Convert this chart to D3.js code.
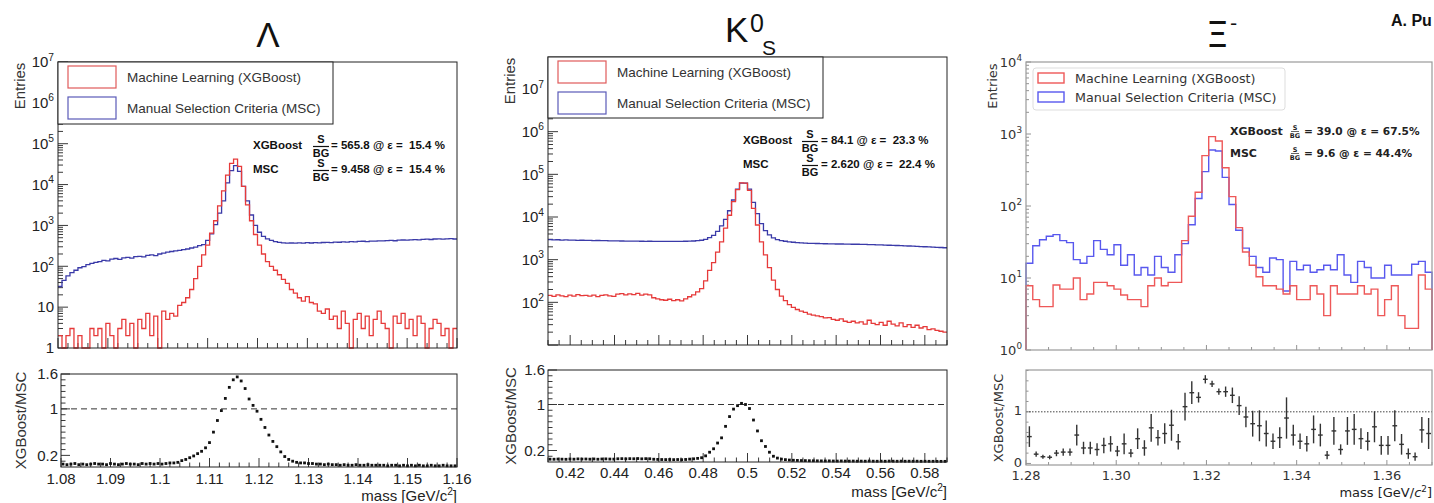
<!DOCTYPE html>
<html><head><meta charset="utf-8">
<script src="https://cdn.jsdelivr.net/npm/d3@7"></script>
<style>body{margin:0;background:#fff}svg{display:block}</style>
</head><body><script>
// ================= DATA =================
const legendLabels = ["Machine Learning (XGBoost)", "Manual Selection Criteria (MSC)"];

// Lambda
const lambdaRange = [1.08, 1.16];
const lambdaXGB = [2,0,2,3,1,2,0,1,3,2, 3,1,4,2,0,3,5,2,4,1, 5,3,7,2,6,0,8,5,7,6,
  11,13,17,27,50,100,190,330,650,1300, 3000,7000,17000,33000,42000,28000,9000,3200,1300,600,
  330,200,130,100,80,62,48,38,27,22, 17,14,18,13,12,8,7,9,5,6,
  3,8,4,0,5,7,3,6,2,5, 8,4,3,0,6,4,7,3,5,2, 6,4,0,3,5,4,2,3,1,3];
const lambdaMSC = [32,45,58,70,80,92,98,110,118,125, 130,140,135,150,155,148,160,165,158,172,
  175,170,185,190,182,200,210,222,230,238, 245,255,265,280,295,320,340,430,620,1050,
  2000,4000,11000,22000,29000,21000,9000,4000,1800,1000, 680,540,470,430,400,385,375,370,372,368,
  375,370,378,372,380,376,382,385,380,390, 388,395,392,400,398,405,410,402,415,412,
  420,418,425,430,422,435,440,438,445,450, 442,455,460,452,465,470,460,468,475,465];
const lambdaRatio = [0.05,0.04,0.05,0.06,0.04,0.05,0.04,0.05,0.06,0.05, 0.05,0.04,0.06,0.05,0.04,0.05,0.06,0.05,0.05,0.04,
  0.06,0.05,0.06,0.05,0.06,0.05,0.06,0.07,0.07,0.08, 0.11,0.13,0.16,0.19,0.23,0.27,0.33,0.42,0.6,0.8,
  0.97,1.18,1.37,1.5,1.55,1.48,1.35,1.17,1.06,0.96, 0.82,0.68,0.55,0.44,0.35,0.26,0.18,0.13,0.1,0.08,
  0.07,0.07,0.06,0.06,0.05,0.05,0.04,0.05,0.04,0.04, 0.03,0.04,0.03,0.03,0.04,0.03,0.03,0.04,0.03,0.03,
  0.03,0.03,0.02,0.03,0.03,0.02,0.03,0.02,0.03,0.02, 0.03,0.02,0.02,0.03,0.02,0.02,0.03,0.02,0.02,0.02];
const lambdaStats = [["XGBoost", "= 565.8 @ \u03b5 =  15.4 %"], ["MSC", "= 9.458 @ \u03b5 =  15.4 %"]];
const lambdaXTicks = ["1.08","1.09","1.1","1.11","1.12","1.13","1.14","1.15","1.16"];

// K0S
const k0Range = [0.41, 0.59];
const k0XGB = [145,138,150,142,136,148,140,152,144,146, 140,148,136,145,150,142,138,155,160,150,
  158,152,162,148,155,150,128,120,115,112, 118,110,115,108,120,135,150,175,210,320,
  560,850,1500,2600,5500,11000,23000,44000,63000,62000, 42000,16000,6500,2600,1300,650,330,200,140,110,
  88,76,68,62,58,53,50,48,46,43, 44,40,38,41,36,34,36,33,35,31,
  38,32,30,34,29,36,31,28,33,27, 30,26,29,25,27,23,24,22,21,20];
const k0MSC = [2950,2900,2930,2880,2900,2860,2870,2840,2850,2820, 2830,2800,2810,2780,2790,2760,2770,2750,2740,2730,
  2720,2710,2720,2700,2690,2700,2680,2690,2670,2680, 2680,2690,2670,2690,2700,2720,2740,2780,2850,2980,
  3300,3700,4600,6200,8800,14000,25000,45000,62000,62000, 45000,22000,12000,7000,4800,3800,3250,2950,2800,2700,
  2620,2560,2520,2480,2450,2420,2400,2390,2380,2360, 2350,2340,2330,2330,2320,2310,2300,2300,2290,2280,
  2260,2250,2230,2220,2200,2180,2160,2150,2130,2110, 2090,2070,2050,2030,2010,1990,1970,1950,1930,1900];
const k0Ratio = [0.049,0.048,0.051,0.049,0.047,0.052,0.049,0.054,0.051,0.052, 0.049,0.053,0.048,0.052,0.054,0.051,0.05,0.056,0.058,0.055,
  0.058,0.056,0.06,0.055,0.058,0.056,0.048,0.045,0.043,0.042, 0.044,0.041,0.043,0.04,0.044,0.05,0.055,0.063,0.074,0.107,
  0.17,0.23,0.33,0.42,0.62,0.79,0.92,0.98,1.02,1.0, 0.93,0.73,0.54,0.37,0.27,0.17,0.1,0.068,0.05,0.041,
  0.034,0.03,0.027,0.025,0.024,0.022,0.021,0.02,0.019,0.018, 0.019,0.017,0.016,0.018,0.016,0.015,0.016,0.014,0.015,0.014,
  0.017,0.014,0.013,0.015,0.013,0.016,0.014,0.013,0.015,0.013, 0.014,0.013,0.014,0.012,0.013,0.012,0.012,0.011,0.011,0.011];
const k0Stats = [["XGBoost", "= 84.1 @ \u03b5 =  23.3 %"], ["MSC", "= 2.620 @ \u03b5 =  22.4 %"]];
const k0XTicks = ["0.42","0.44","0.46","0.48","0.5","0.52","0.54","0.56","0.58"];

// Xi-
const xiRange = [1.28, 1.37];
const xiXGB = [7.8,5,4,4,8,7,7,10,5,6, 8.7,8.7,7.8,7,5.8,5,5,4,7.8,10, 7.8,8.7,8.7,33,72,155,500,920,800,340,
  135,50,23,15,10.4,7.8,7.8,7,6,7.8, 5,5,7.8,6,3,7.8,6,6,6,7.8, 6,7,3,5,7.8,3,2,2,11,7];
const xiMSC = [16,28,34,38,40,33,31,18,16,20, 33,25,21,29,15,21,11,14,11,20, 14,12,21,30,55,127,300,600,580,250,
  105,46,26,20,14,12,19,18,6.6,17, 13,15,12,13,15,13,21,11,8.7,17, 14,10,10,15,11,11,11,15.5,17,12];
const xiRatio = [0.52,0.18,0.13,0.12,0.2,0.22,0.22,0.55,0.3,0.3, 0.27,0.35,0.38,0.24,0.38,0.2,0.48,0.3,0.69,0.5,
  0.58,0.74,0.42,1.1,1.37,1.28,1.63,1.54,1.39,1.39, 1.32,1.12,0.9,0.77,0.73,0.58,0.43,0.5,0.88,0.55,
  0.43,0.38,0.66,0.55,0.16,0.63,0.27,0.63,0.66,0.48, 0.43,0.71,0.35,0.35,0.73,0.37,0.19,0.13,0.65,0.58];
const xiRatioErr = [0.2,0.05,0.04,0.04,0.06,0.07,0.07,0.2,0.12,0.12, 0.12,0.15,0.15,0.1,0.2,0.08,0.2,0.15,0.27,0.15,
  0.2,0.3,0.15,0.27,0.22,0.1,0.08,0.06,0.06,0.1, 0.15,0.18,0.2,0.25,0.3,0.25,0.15,0.2,0.4,0.2,
  0.15,0.15,0.27,0.22,0.08,0.27,0.1,0.27,0.3,0.2, 0.18,0.3,0.18,0.18,0.3,0.2,0.1,0.08,0.25,0.3];
const xiStats = [["XGBoost", "= 39.0 @ \u03b5 = 67.5%"], ["MSC", "= 9.6 @ \u03b5 = 44.4%"]];
const xiXTicks = ["1.28","1.30","1.32","1.34","1.36"];

// ================= DRAWING =================
const F_ROOT = "'Liberation Sans', Arial, Helvetica, sans-serif";
const F_MPL = "'DejaVu Sans', sans-serif";
const svg = d3.select("body").append("svg").attr("width", 1434).attr("height", 503);

function edgesOf(range, n) { return d3.range(n + 1).map(i => range[0] + i * (range[1] - range[0]) / n); }
function histPath(values, range, x, y, minV, closed) {
  const n = values.length, e = edgesOf(range, n);
  const pts = values.map((v, i) => [x(e[i]), y(Math.max(v, minV))]);
  pts.push([x(e[n]), y(Math.max(values[n - 1], minV))]);
  if (closed) { pts.unshift([x(e[0]), y(minV)]); pts.push([x(e[n]), y(minV)]); }
  return d3.line().curve(d3.curveStepAfter)(pts);
}
function centersOf(range, n) { const e = edgesOf(range, n); return d3.range(n).map(i => (e[i] + e[i + 1]) / 2); }
function stepValues(lo, hi, step) { const out = []; const k0 = Math.ceil(lo / step - 1e-6), k1 = Math.floor(hi / step + 1e-6); for (let k = k0; k <= k1; k++) out.push(+(k * step).toFixed(6)); return out; }
function isMult(v, step) { return Math.abs(v / step - Math.round(v / step)) < 1e-5; }

function powLabel(g, xr, yc, e, fs, font, fill, alwaysPow) {
  const t = g.append("text").attr("x", xr).attr("y", yc + fs * 0.35).attr("text-anchor", "end")
    .attr("font-family", font).attr("font-size", fs).attr("fill", fill);
  if (!alwaysPow && e === 0) { t.text("1"); return; }
  if (!alwaysPow && e === 1) { t.text("10"); return; }
  t.append("tspan").text("10");
  t.append("tspan").attr("dy", -fs * 0.45).attr("font-size", fs * 0.68).text(e);
}

function rotLabel(g, cx, cy, txt, fs, font, fill) {
  g.append("text").attr("transform", `translate(${cx},${cy}) rotate(-90)`).attr("text-anchor", "middle")
    .attr("dominant-baseline", "central").attr("font-family", font).attr("font-size", fs).attr("fill", fill).text(txt);
}

function massTitle(g, xr, yb, fs, font, italicC) {
  const t = g.append("text").attr("x", xr).attr("y", yb).attr("text-anchor", "end")
    .attr("font-family", font).attr("font-size", fs).attr("fill", "#222");
  t.append("tspan").text("mass [GeV/");
  t.append("tspan").attr("font-style", italicC ? "italic" : null).text("c");
  t.append("tspan").attr("dy", -fs * 0.42).attr("font-size", fs * 0.68).text("2");
  t.append("tspan").attr("dy", fs * 0.42).text("]");
}

function rootPanel(c) {
  const g = svg.append("g");
  const U = c.upper, L = c.lower;
  const x = d3.scaleLinear().domain(c.range).range([U.x0, U.x1]);
  const y = d3.scaleLog().domain(c.yDomain).range([U.y1, U.y0]);
  const ink = "#222";
  const elo = Math.log10(c.yDomain[0]), ehi = Math.log10(c.yDomain[1]);
  for (let e = Math.floor(elo); e <= Math.ceil(ehi); e++) for (let m = 1; m < 10; m++) {
    const v = m * Math.pow(10, e);
    if (v < c.yDomain[0] * 0.999 || v > c.yDomain[1] * 1.001) continue;
    g.append("line").attr("x1", U.x0).attr("x2", U.x0 + (m === 1 ? 10 : 5)).attr("y1", y(v)).attr("y2", y(v)).attr("stroke", ink).attr("stroke-width", 0.9);
  }
  c.yLabelExps.forEach(e => powLabel(g, U.x0 - 4, y(Math.pow(10, e)), e, 15, F_ROOT, "#222", false));
  stepValues(c.range[0], c.range[1], c.xMinor).forEach(v => {
    const len = isMult(v, c.xMajor) ? 10 : 5;
    g.append("line").attr("x1", x(v)).attr("x2", x(v)).attr("y1", U.y1).attr("y2", U.y1 - len).attr("stroke", ink).attr("stroke-width", 0.9);
  });
  g.append("path").attr("d", histPath(c.msc, c.range, x, y, c.yDomain[0], false)).attr("fill", "none").attr("stroke", "#3a3aa8").attr("stroke-width", 1.3);
  g.append("path").attr("d", histPath(c.xgb, c.range, x, y, c.yDomain[0], false)).attr("fill", "none").attr("stroke", "#e63a3a").attr("stroke-width", 1.3);
  g.append("rect").attr("x", U.x0).attr("y", U.y0).attr("width", U.x1 - U.x0).attr("height", U.y1 - U.y0).attr("fill", "none").attr("stroke", ink).attr("stroke-width", 1);
  const Lg = c.legend;
  g.append("rect").attr("x", Lg.x).attr("y", Lg.y).attr("width", Lg.w).attr("height", Lg.h).attr("fill", "#fff").attr("stroke", ink).attr("stroke-width", 1);
  ["#e05a5a", "#5a5ab8"].forEach((col, i) => {
    g.append("rect").attr("x", Lg.swX).attr("y", Lg.rows[i]).attr("width", 48).attr("height", 22).attr("fill", "none").attr("stroke", col).attr("stroke-width", 1.2);
    g.append("text").attr("x", Lg.textX).attr("y", Lg.rows[i] + 11).attr("dominant-baseline", "central").attr("font-family", F_ROOT).attr("font-size", 13.5).attr("fill", "#333").text(legendLabels[i]);
  });
  c.stats.forEach((s, i) => {
    const b = c.statRows[i];
    const mk = (xx, yy, fs, txt, anchor) => g.append("text").attr("x", xx).attr("y", yy).attr("font-size", fs)
      .attr("text-anchor", anchor || "start").attr("font-family", F_ROOT).attr("font-weight", "bold").attr("fill", "#111")
      .style("white-space", "pre").text(txt);
    mk(c.statX, b, 11.5, s[0]);
    mk(c.fracX, b - 6.5, 11, "S", "middle");
    g.append("line").attr("x1", c.fracX - 8).attr("x2", c.fracX + 8).attr("y1", b - 2.5).attr("y2", b - 2.5).attr("stroke", "#111").attr("stroke-width", 1.2);
    mk(c.fracX, b + 8, 11, "BG", "middle");
    mk(c.valX, b, 11.5, s[1]);
  });
  rotLabel(g, c.yTitleX, c.entriesY, "Entries", 15, F_ROOT, "#333");

  const x2 = d3.scaleLinear().domain(c.range).range([L.x0, L.x1]);
  const y2 = d3.scaleLinear().domain([0, 1.6]).range([L.y1, L.y0]);
  stepValues(0.1, 1.6, 0.1).forEach(v => {
    const major = c.ratioLabels.includes(+v.toFixed(1));
    g.append("line").attr("x1", L.x0).attr("x2", L.x0 + (major ? 9 : 4.5)).attr("y1", y2(v)).attr("y2", y2(v)).attr("stroke", ink).attr("stroke-width", 0.9);
  });
  c.ratioLabels.forEach(v => g.append("text").attr("x", L.x0 - 3).attr("y", y2(v) + 5.3).attr("text-anchor", "end").attr("font-family", F_ROOT).attr("font-size", 15).attr("fill", "#222").text(String(v)));
  stepValues(c.range[0], c.range[1], c.xMinor).forEach(v => {
    const len = isMult(v, c.xMajor) ? 9 : 4.5;
    g.append("line").attr("x1", x2(v)).attr("x2", x2(v)).attr("y1", L.y1).attr("y2", L.y1 - len).attr("stroke", ink).attr("stroke-width", 0.9);
  });
  stepValues(c.range[0], c.range[1], c.xMajor).forEach((v, i) => {
    if (i >= c.xTickLabels.length) return;
    g.append("text").attr("x", x2(v)).attr("y", c.xLabelY).attr("text-anchor", "middle").attr("font-family", F_ROOT).attr("font-size", 15).attr("fill", "#222").text(c.xTickLabels[i]);
  });
  g.append("line").attr("x1", L.x0).attr("x2", L.x1).attr("y1", y2(1)).attr("y2", y2(1)).attr("stroke", "#333").attr("stroke-width", 1).attr("stroke-dasharray", "6,4");
  const cs = centersOf(c.range, c.ratio.length);
  g.selectAll(null).data(c.ratio).join("rect").attr("x", (d, i) => x2(cs[i]) - 1.4).attr("y", d => y2(d) - 1.4).attr("width", 2.8).attr("height", 2.8).attr("fill", "#111");
  g.append("rect").attr("x", L.x0).attr("y", L.y0).attr("width", L.x1 - L.x0).attr("height", L.y1 - L.y0).attr("fill", "none").attr("stroke", ink).attr("stroke-width", 1);
  rotLabel(g, c.yTitleX + 1, (L.y0 + L.y1) / 2, "XGBoost/MSC", 15, F_ROOT, "#333");
  massTitle(g, L.x1, c.massY, 15, F_ROOT, false);
}

rootPanel({
  range: lambdaRange, xgb: lambdaXGB, msc: lambdaMSC, ratio: lambdaRatio,
  upper: { x0: 58, x1: 457, y0: 62, y1: 348 }, lower: { x0: 61, x1: 457, y0: 374, y1: 467 },
  yDomain: [1, 1e7], yLabelExps: [0, 1, 2, 3, 4, 5, 6, 7], xMajor: 0.01, xMinor: 0.002,
  legend: { x: 58, y: 62, w: 275, h: 62, swX: 68, rows: [66, 97], textX: 127 },
  stats: lambdaStats, statX: 253, fracX: 321, valX: 331, statRows: [149, 173],
  yTitleX: 19, entriesY: 86, ratioLabels: [0.2, 1, 1.6], xTickLabels: lambdaXTicks, xLabelY: 484, massY: 501
});
rootPanel({
  range: k0Range, xgb: k0XGB, msc: k0MSC, ratio: k0Ratio,
  upper: { x0: 548, x1: 947, y0: 57, y1: 345 }, lower: { x0: 548, x1: 947, y0: 370, y1: 462 },
  yDomain: [10, Math.pow(10, 7.75)], yLabelExps: [2, 3, 4, 5, 6, 7], xMajor: 0.02, xMinor: 0.005,
  legend: { x: 548, y: 57, w: 275, h: 61, swX: 558, rows: [61, 92], textX: 617 },
  stats: k0Stats, statX: 743, fracX: 810, valX: 821, statRows: [144, 168],
  yTitleX: 509, entriesY: 81, ratioLabels: [0.2, 1, 1.6], xTickLabels: k0XTicks, xLabelY: 478, massY: 497
});

// ---- matplotlib-like Xi panel ----
(function () {
  const g = svg.append("g");
  const U = { x0: 1026, x1: 1432, y0: 62, y1: 350 }, L = { x0: 1026, x1: 1432, y0: 370, y1: 465 };
  const x = d3.scaleLinear().domain(xiRange).range([U.x0, U.x1]);
  const y = d3.scaleLog().domain([1, 1e4]).range([U.y1, U.y0]);
  const gray = "#9a9a9a", tcol = "#333";
  for (let e = 0; e <= 4; e++) for (let m = 1; m < 10; m++) {
    const v = m * Math.pow(10, e); if (v > 1e4 * 1.001) continue;
    g.append("line").attr("x1", U.x0).attr("x2", U.x0 + (m === 1 ? 5 : 3)).attr("y1", y(v)).attr("y2", y(v)).attr("stroke", "#777").attr("stroke-width", 0.8);
  }
  [0, 1, 2, 3, 4].forEach(e => powLabel(g, U.x0 - 4, y(Math.pow(10, e)), e, 13, F_MPL, tcol, true));
  stepValues(xiRange[0], xiRange[1], 0.005).forEach(v => {
    const len = isMult(v, 0.02) ? 5 : 3;
    g.append("line").attr("x1", x(v)).attr("x2", x(v)).attr("y1", U.y1).attr("y2", U.y1 - len).attr("stroke", "#777").attr("stroke-width", 0.8);
  });
  g.append("path").attr("d", histPath(xiMSC, xiRange, x, y, 1, true)).attr("fill", "none").attr("stroke", "#5858ee").attr("stroke-width", 1.4);
  g.append("path").attr("d", histPath(xiXGB, xiRange, x, y, 1, true)).attr("fill", "none").attr("stroke", "#ee5858").attr("stroke-width", 1.4);
  g.append("rect").attr("x", U.x0).attr("y", U.y0).attr("width", U.x1 - U.x0).attr("height", U.y1 - U.y0).attr("fill", "none").attr("stroke", gray).attr("stroke-width", 1.2);
  g.append("rect").attr("x", 1033).attr("y", 68).attr("width", 252).attr("height", 42).attr("rx", 3).attr("fill", "#fff").attr("fill-opacity", 0.85).attr("stroke", "#ddd");
  ["#ee5858", "#5858ee"].forEach((col, i) => {
    g.append("rect").attr("x", 1038).attr("y", [73, 92][i]).attr("width", 26).attr("height", 10).attr("fill", "none").attr("stroke", col).attr("stroke-width", 1.4);
    g.append("text").attr("x", 1075).attr("y", [78, 97][i]).attr("dominant-baseline", "central").attr("font-family", F_MPL).attr("font-size", 12.7).attr("fill", tcol).text(legendLabels[i]);
  });
  xiStats.forEach((s, i) => {
    const b = [135, 157][i];
    g.append("text").attr("x", 1230).attr("y", b).attr("font-family", F_MPL).attr("font-weight", "bold").attr("font-size", 11).attr("fill", "#222").text(s[0]);
    g.append("text").attr("x", 1295).attr("y", b - 5).attr("text-anchor", "middle").attr("font-family", F_MPL).attr("font-weight", "bold").attr("font-size", 6.5).attr("fill", "#222").text("S");
    g.append("line").attr("x1", 1291).attr("x2", 1299).attr("y1", b - 3.5).attr("y2", b - 3.5).attr("stroke", "#222").attr("stroke-width", 0.7);
    g.append("text").attr("x", 1295).attr("y", b + 2.5).attr("text-anchor", "middle").attr("font-family", F_MPL).attr("font-weight", "bold").attr("font-size", 6.5).attr("fill", "#222").text("BG");
    g.append("text").attr("x", 1304).attr("y", b).attr("font-family", F_MPL).attr("font-weight", "bold").attr("font-size", 10.6).attr("fill", "#222").text(s[1]);
  });
  rotLabel(g, 992, 86, "Entries", 13, F_MPL, tcol);
  const x2 = d3.scaleLinear().domain(xiRange).range([L.x0, L.x1]);
  const y2 = d3.scaleLinear().domain([-0.03, 1.81]).range([L.y1, L.y0]);
  stepValues(0, 1.8, 0.2).forEach(v => {
    const major = isMult(v, 1);
    g.append("line").attr("x1", L.x0).attr("x2", L.x0 + (major ? 5 : 2.5)).attr("y1", y2(v)).attr("y2", y2(v)).attr("stroke", "#777").attr("stroke-width", 0.8);
  });
  ["0", "1"].forEach((lab, i) => g.append("text").attr("x", L.x0 - 4).attr("y", y2(i) + 3.5).attr("text-anchor", "end").attr("font-family", F_MPL).attr("font-size", 13).attr("fill", tcol).text(lab));
  stepValues(xiRange[0], xiRange[1], 0.005).forEach(v => {
    const len = isMult(v, 0.02) ? 5 : 3;
    g.append("line").attr("x1", x2(v)).attr("x2", x2(v)).attr("y1", L.y1).attr("y2", L.y1 - len).attr("stroke", "#777").attr("stroke-width", 0.8);
  });
  stepValues(xiRange[0], xiRange[1], 0.02).forEach((v, i) => {
    g.append("text").attr("x", x2(v)).attr("y", 480).attr("text-anchor", "middle").attr("font-family", F_MPL).attr("font-size", 13).attr("fill", tcol).text(xiXTicks[i]);
  });
  g.append("line").attr("x1", L.x0).attr("x2", L.x1).attr("y1", y2(1)).attr("y2", y2(1)).attr("stroke", "#444").attr("stroke-width", 1).attr("stroke-dasharray", "1.5,1.5");
  const cs = centersOf(xiRange, xiRatio.length);
  const hw = (x2(xiRange[1]) - x2(xiRange[0])) / xiRatio.length * 0.35;
  const eb = g.selectAll(null).data(xiRatio).join("g");
  eb.append("line").attr("x1", (d, i) => x2(cs[i])).attr("x2", (d, i) => x2(cs[i]))
    .attr("y1", (d, i) => y2(d - xiRatioErr[i])).attr("y2", (d, i) => y2(d + xiRatioErr[i])).attr("stroke", "#333").attr("stroke-width", 1.4);
  eb.append("line").attr("x1", (d, i) => x2(cs[i]) - hw).attr("x2", (d, i) => x2(cs[i]) + hw)
    .attr("y1", d => y2(d)).attr("y2", d => y2(d)).attr("stroke", "#333").attr("stroke-width", 1.4);
  g.append("rect").attr("x", L.x0).attr("y", L.y0).attr("width", L.x1 - L.x0).attr("height", L.y1 - L.y0).attr("fill", "none").attr("stroke", gray).attr("stroke-width", 1.2);
  rotLabel(g, 998, 418, "XGBoost/MSC", 13, F_MPL, tcol);
  massTitle(g, 1432, 497, 13, F_MPL, true);
})();

// ---- titles ----
svg.append("text").attr("x", 268).attr("y", 47).attr("text-anchor", "middle").attr("font-family", F_ROOT).attr("font-size", 35).attr("fill", "#111").text("\u039b");
svg.append("text").attr("x", 725).attr("y", 42).attr("font-family", F_ROOT).attr("font-size", 35).attr("fill", "#111").text("K");
svg.append("text").attr("x", 750).attr("y", 32).attr("font-family", F_ROOT).attr("font-size", 25).attr("fill", "#111").text("0");
svg.append("text").attr("x", 762).attr("y", 55).attr("font-family", F_ROOT).attr("font-size", 21).attr("fill", "#111").text("S");
svg.append("text").attr("x", 1206).attr("y", 47).attr("font-family", F_MPL).attr("font-size", 36).attr("fill", "#111").text("\u039e");
svg.append("text").attr("x", 1230).attr("y", 30).attr("font-family", F_MPL).attr("font-size", 20).attr("fill", "#111").text("-");
svg.append("text").attr("x", 1391).attr("y", 26).attr("font-family", F_ROOT).attr("font-weight", "bold").attr("font-size", 16).attr("fill", "#111").text("A. Pu");
</script></body></html>
